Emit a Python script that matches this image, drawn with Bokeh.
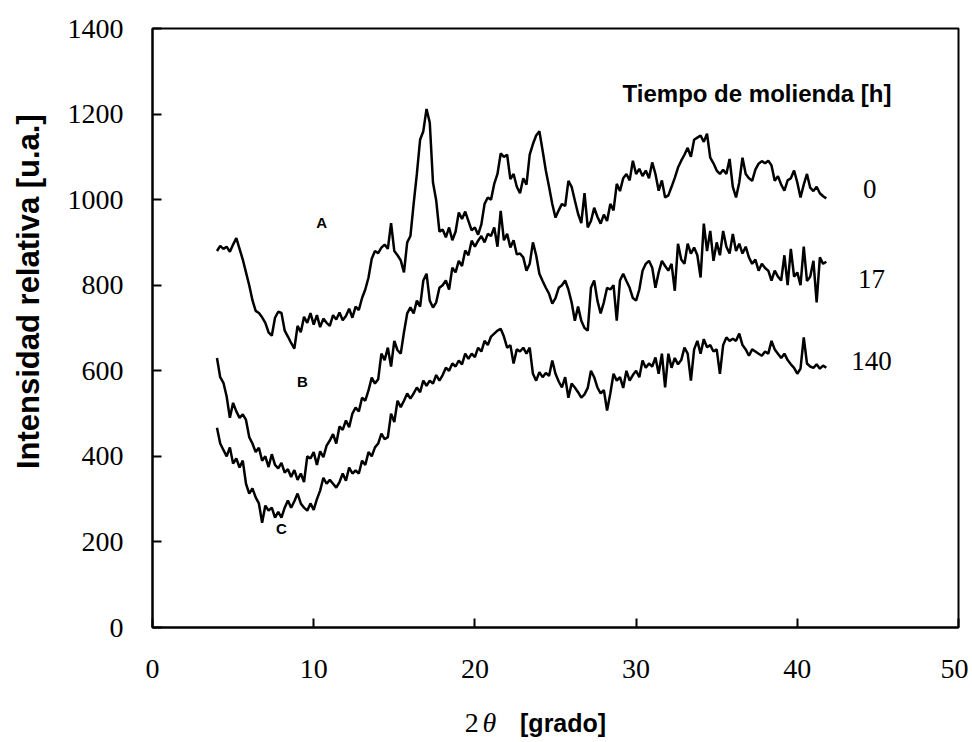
import math
from bokeh.plotting import figure
from bokeh.layouts import row, column
from bokeh.models import Label, Range1d, FixedTicker, ColumnDataSource
from bokeh.core.properties import value
from bokeh.embed import file_html
from bokeh.resources import INLINE

# 2-theta scan start and step (degrees)
theta_start = 4.0
theta_step = 0.2

# Intensity, 0 h milling (curve A), one value per 0.2 deg from 4.0 to 41.8
int_0h = [
    880, 892, 885, 890, 878,
    895, 910, 885, 860, 830,
    800, 765, 740, 735, 725,
    712, 690, 682, 724, 738,
    735, 694, 680, 665, 652,
    705, 690, 726, 712, 735,
    708, 730, 702, 722, 712,
    705, 730, 720, 736, 718,
    728, 745, 724, 750, 742,
    770, 790, 818, 862, 880,
    875, 888, 895, 885, 945,
    880, 870, 858, 830, 900,
    915, 990, 1060, 1140, 1160,
    1212, 1180, 1040, 998, 925,
    930, 912, 935, 905, 925,
    970, 955, 972, 950, 928,
    935, 918, 942, 990, 1005,
    1000, 1037, 1060, 1108, 1100,
    1105, 1048, 1060, 1030, 1015,
    1050, 1035, 1105, 1130, 1150,
    1160, 1115, 1068, 1030, 990,
    958, 975, 990, 985, 1044,
    1030, 998, 967, 945, 1015,
    935, 950, 981, 960, 944,
    965, 950, 990, 975, 1037,
    1020, 1050, 1060, 1045, 1091,
    1060, 1072, 1055, 1068, 1050,
    1087, 1060, 1021, 1045, 1005,
    1010, 1030, 1051, 1075, 1091,
    1105, 1121, 1100, 1140, 1145,
    1150, 1135, 1154, 1098, 1085,
    1068, 1060, 1070, 1060, 1095,
    1030, 1005, 1040, 1098, 1060,
    1050, 1044, 1070, 1084, 1090,
    1085, 1091, 1080, 1044, 1055,
    1035, 1021, 1045, 1050, 1068,
    1040, 1005, 1035, 1060, 1028,
    1020, 1030, 1015, 1008, 1003,
]

# Intensity, 17 h milling (curve B)
int_17h = [
    630, 585, 572, 540, 490,
    525, 505, 490, 498, 485,
    445, 430, 410, 420, 390,
    400, 375, 405, 380, 372,
    385, 362, 370, 352, 368,
    345, 360, 340, 400, 395,
    410, 380, 412, 398, 425,
    437, 452, 430, 470, 462,
    484, 468, 500, 514, 505,
    537, 530, 554, 584, 570,
    580, 640, 625, 654, 610,
    670, 648, 640, 690, 734,
    748, 734, 764, 750, 811,
    827, 764, 748, 760, 794,
    800, 811, 790, 841, 830,
    857, 845, 881, 870, 904,
    890, 904, 915, 900, 920,
    915, 935, 890, 974, 905,
    920, 888, 905, 872, 874,
    865, 834, 850, 900, 870,
    827, 810, 794, 780, 757,
    770, 794, 800, 811, 790,
    760, 717, 750, 717, 700,
    694, 794, 811, 764, 734,
    760, 794, 790, 800, 717,
    811, 827, 810, 794, 770,
    764, 790, 834, 850, 857,
    841, 794, 830, 857, 845,
    834, 850, 787, 897, 860,
    850, 897, 874, 888, 870,
    818, 944, 880, 927, 857,
    900, 870, 927, 890, 874,
    920, 880, 897, 874, 890,
    865, 850, 860, 834, 850,
    840, 834, 811, 834, 820,
    811, 870, 800, 885, 820,
    830, 800, 890, 810, 820,
    857, 760, 865, 850, 855,
]

# Intensity, 140 h milling (curve C)
int_140h = [
    467, 430, 415, 400, 421,
    383, 395, 374, 390, 336,
    313, 325, 304, 290, 245,
    285, 273, 280, 257, 270,
    257, 280, 297, 280, 295,
    313, 290, 280, 273, 290,
    275, 300, 320, 350, 336,
    345, 336, 327, 340, 360,
    343, 374, 360, 367, 360,
    390, 380, 410, 400, 421,
    430, 453, 440, 445, 500,
    480, 530, 515, 530, 547,
    535, 547, 561, 550, 577,
    565, 577, 570, 590, 577,
    590, 607, 600, 617, 610,
    624, 615, 640, 628, 640,
    632, 654, 645, 670, 660,
    680, 687, 694, 698, 680,
    654, 660, 617, 650, 645,
    654, 640, 654, 593, 577,
    597, 585, 595, 588, 624,
    593, 575, 561, 585, 537,
    570, 561, 550, 537, 545,
    560, 600, 585, 561, 547,
    555, 507, 547, 593, 577,
    585, 560, 600, 577, 590,
    600, 585, 624, 607, 617,
    610, 631, 593, 640, 561,
    640, 607, 630, 615, 625,
    654, 640, 577, 650, 670,
    640, 674, 655, 660, 645,
    650, 593, 660, 678, 670,
    675, 670, 687, 660, 650,
    635, 650, 645, 640, 635,
    645, 640, 670, 650, 640,
    630, 640, 625, 615, 607,
    593, 605, 678, 617, 610,
    607, 615, 605, 612, 607,
]

x_ticks = [0, 10, 20, 30, 40, 50]
y_ticks = [0, 200, 400, 600, 800, 1000, 1200, 1400]
series_names = ["0", "17", "140"]
curve_letters = ["A", "B", "C"]
y_title = "Intensidad relativa [u.a.]"
x_title_parts = ["2", "θ", "[grado]"]

SERIF = "Liberation Serif"
SANS = "Liberation Sans"

TOP, BOTTOM = 28, 63
LEFT_STRIP = 50

p = figure(width=918, height=690, output_backend="svg", toolbar_location=None,
           x_range=Range1d(0, 50), y_range=Range1d(0, 1400),
           min_border_left=152 - LEFT_STRIP, min_border_right=10, min_border_top=TOP,
           min_border_bottom=BOTTOM)
p.background_fill_color = "white"
p.border_fill_color = "white"
p.grid.visible = False
p.outline_line_color = "black"
p.outline_line_width = 2

for ax in (p.xaxis[0], p.yaxis[0]):
    ax.axis_line_color = "black"
    ax.axis_line_width = 2
    ax.major_tick_in = 9
    ax.major_tick_out = 0
    ax.major_tick_line_width = 2
    ax.minor_tick_line_color = None
    ax.major_label_text_font = SERIF
    ax.major_label_text_font_size = "28px"
    ax.major_label_text_color = "black"
p.xaxis.ticker = FixedTicker(ticks=x_ticks)
p.yaxis.ticker = FixedTicker(ticks=y_ticks)
p.xaxis.major_label_standoff = 32
p.yaxis.major_label_standoff = 29

for ys in (int_0h, int_17h, int_140h):
    xs = [round(theta_start + theta_step * i, 1) for i in range(len(ys))]
    src = ColumnDataSource(dict(x=xs, y=ys))
    p.line("x", "y", source=src, line_color="black", line_width=2.5)

# curve letters
for letter, (lx, ly) in zip(curve_letters, [(10.5, 946), (9.3, 575), (8.0, 232)]):
    p.add_layout(Label(x=lx, y=ly, text=letter, text_font=SANS, text_font_style="bold",
                       text_font_size="15px", text_align="center", text_baseline="middle",
                       text_color="black"))

# milling-time labels
for name, (lx, ly) in zip(series_names, [(44.5, 1026), (44.6, 815), (44.6, 622)]):
    p.add_layout(Label(x=lx, y=ly, text=name, text_font=SERIF, text_font_size="27px",
                       text_align="center", text_baseline="middle", text_color="black"))

p.add_layout(Label(x=37.5, y=1248, text="Tiempo de molienda [h]", text_font=SANS,
                   text_font_style="bold", text_font_size="24px", text_align="center",
                   text_baseline="middle", text_color="black"))

# left strip holding the y-axis title (shares the y scale of the main plot)
pl = figure(width=LEFT_STRIP, height=690, output_backend="svg", toolbar_location=None,
            x_range=Range1d(0, LEFT_STRIP), y_range=p.y_range,
            min_border_left=0, min_border_right=0, min_border_top=TOP,
            min_border_bottom=BOTTOM)
pl.axis.visible = False
pl.grid.visible = False
pl.outline_line_color = None
pl.text(x=[28], y=[785], text=[y_title], text_font=value(SANS), text_font_style="bold",
        text_font_size="31px", text_align="center", text_baseline="middle",
        angle=math.pi / 2, text_color="black")

# bottom strip holding the x-axis title (shares the x scale of the main plot)
pb = figure(width=918, height=50, output_backend="svg", toolbar_location=None,
            x_range=p.x_range, y_range=Range1d(0, 1),
            min_border_left=152 - LEFT_STRIP, min_border_right=10, min_border_top=0,
            min_border_bottom=0)
pb.axis.visible = False
pb.grid.visible = False
pb.outline_line_color = None
pb.text(x=[19.8], y=[0.36], text=[x_title_parts[0]], text_font=value(SERIF),
        text_font_size="28px", text_align="center", text_baseline="middle", text_color="black")
pb.text(x=[20.9], y=[0.36], text=[x_title_parts[1]], text_font=value(SERIF),
        text_font_style="italic", text_font_size="28px", text_align="center",
        text_baseline="middle", text_color="black")
pb.text(x=[22.8], y=[0.36], text=[x_title_parts[2]], text_font=value(SANS),
        text_font_style="bold", text_font_size="25px", text_align="left",
        text_baseline="middle", text_color="black")

layout = row(pl, column(p, pb))
open("out.html", "w").write(file_html(layout, INLINE))
